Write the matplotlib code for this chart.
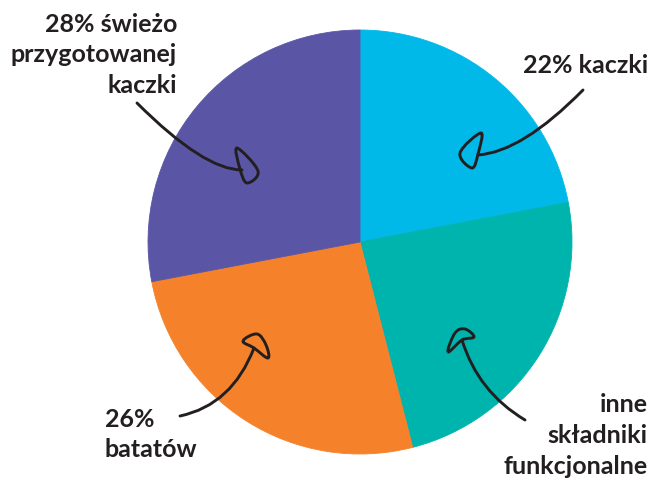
import matplotlib.pyplot as plt
from matplotlib.path import Path
from matplotlib.patches import PathPatch

plt.rcParams['font.family'] = ['Lato', 'DejaVu Sans']

# dane wykresu
udzialy = [22, 24, 26, 28]
kolory = ['#00B9E8', '#00B4AE', '#F5822A', '#5A56A5']
etykiety = [
    ['22% kaczki'],
    ['inne', 'składniki', 'funkcjonalne'],
    ['26%', 'batatów'],
    ['28% świeżo', 'przygotowanej', 'kaczki'],
]

W, H = 652, 480
tekst_kolor = '#231F20'

fig = plt.figure(figsize=(W / 100, H / 100), dpi=100)
ax = fig.add_axes([0, 0, 1, 1])

wedges, _ = ax.pie(udzialy, colors=kolory, startangle=90, counterclock=False,
                   center=(360, H - 242), radius=212)
for w, k in zip(wedges, kolory):
    w.set_edgecolor(k)
    w.set_linewidth(0.6)

ax.set_xlim(0, W)
ax.set_ylim(0, H)
ax.set_aspect('equal')
ax.axis('off')


def y(v):
    # współrzędne liczone od góry obrazka
    return H - v


def petla_path(punkty, napiecie=0.18):
    # zamknięta gładka krzywa przez punkty (catmull-rom -> bezier)
    n = len(punkty)
    pts = [(a, y(b)) for a, b in punkty]
    verts = [pts[0]]
    codes = [Path.MOVETO]
    for i in range(n):
        p0 = pts[i - 1]
        p1 = pts[i]
        p2 = pts[(i + 1) % n]
        p3 = pts[(i + 2) % n]
        c1 = (p1[0] + (p2[0] - p0[0]) * napiecie, p1[1] + (p2[1] - p0[1]) * napiecie)
        c2 = (p2[0] - (p3[0] - p1[0]) * napiecie, p2[1] - (p3[1] - p1[1]) * napiecie)
        verts += [c1, c2, p2]
        codes += [Path.CURVE4] * 3
    return Path(verts, codes)


def strzalka(start, ctrl, koniec, petla):
    pts = [(start[0], y(start[1])), (ctrl[0], y(ctrl[1])), (koniec[0], y(koniec[1]))]
    p = Path(pts, [Path.MOVETO, Path.CURVE3, Path.CURVE3])
    ax.add_patch(PathPatch(p, fill=False, lw=2.1, color=tekst_kolor, capstyle='round'))
    ax.add_patch(PathPatch(petla_path(petla), fill=False, lw=2.1, color=tekst_kolor,
                           joinstyle='round'))


strzalka((583, 90), (522, 152), (478, 155),
         [(460, 153), (481, 133), (478, 154), (472, 168)])
strzalka((525, 420), (478, 392), (462, 340),
         [(448, 352), (455, 333), (465, 329), (474, 337), (462, 340)])
strzalka((180, 416), (232, 405), (254, 348),
         [(243, 341), (257, 334), (266, 345), (268, 358), (254, 348)])
strzalka((137, 103), (204, 170), (242, 170),
         [(240, 169), (237, 148), (258, 171), (247, 183)])

fs = 18
opis = dict(fontsize=fs, fontweight='bold', color=tekst_kolor, va='baseline')

ax.text(648, y(73), etykiety[0][0], ha='right', **opis)
for i, linia in enumerate(etykiety[1]):
    ax.text(648, y(412 + 31 * i), linia, ha='right', **opis)
for i, linia in enumerate(etykiety[2]):
    ax.text(105, y(427 + 30 * i), linia, ha='left', **opis)
for i, linia in enumerate(etykiety[3]):
    ax.text(177, y(32 + 30.5 * i), linia, ha='right', **opis)

fig.savefig('out.png', dpi=100)
